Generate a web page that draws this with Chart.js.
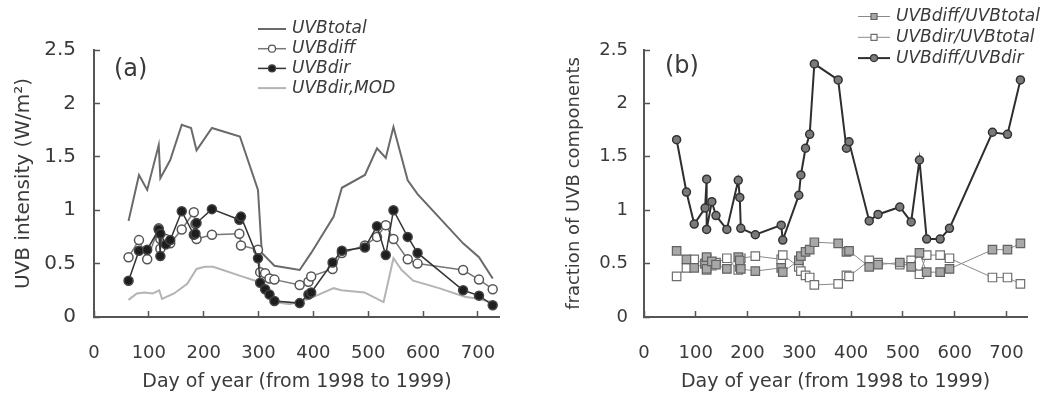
<!DOCTYPE html>
<html>
<head>
<meta charset="utf-8">
<script src="https://cdn.jsdelivr.net/npm/chart.js@4.4.0/dist/chart.umd.min.js"></script>
<style>
  html, body { margin: 0; padding: 0; background: #fff; }
  #wrap { position: relative; width: 1056px; height: 398px; }
  .panel { position: absolute; top: 0; width: 528px; height: 398px; }
</style>
</head>
<body>
<div id="wrap">
  <div class="panel" style="left:0"><canvas id="chartA" width="528" height="398"></canvas></div>
  <div class="panel" style="left:528px"><canvas id="chartB" width="528" height="398"></canvas></div>
</div>
<script>
// measurement days shared by both panels
const days = [63, 82, 97, 118, 121, 121, 131, 139, 160, 182, 185, 187, 215, 265, 268, 299, 303,
  312, 320, 329, 375, 391, 396, 435, 452, 494, 516, 532, 546, 572, 590, 673, 702, 727];

// (a) UVB intensity, W/m2
const uvbDiff = [0.56, 0.72, 0.54, 0.83, 0.73, 0.64, 0.73, 0.69, 0.82, 0.98, 0.87, 0.73, 0.77, 0.78, 0.67, 0.63, 0.42,
  0.41, 0.36, 0.35, 0.30, 0.33, 0.38, 0.45, 0.60, 0.67, 0.75, 0.86, 0.73, 0.54, 0.50, 0.44, 0.35, 0.26];
const uvbDir = [0.34, 0.62, 0.63, 0.82, 0.57, 0.78, 0.68, 0.72, 0.99, 0.77, 0.78, 0.88, 1.01, 0.91, 0.94, 0.55, 0.32,
  0.26, 0.21, 0.15, 0.13, 0.21, 0.23, 0.51, 0.62, 0.65, 0.85, 0.58, 1.00, 0.75, 0.60, 0.25, 0.20, 0.11];

const daysTotal = [63, 82, 97, 118, 121, 139, 160, 177, 187, 215, 266, 299, 306, 329, 375, 396, 437,
  452, 494, 516, 532, 546, 572, 590, 673, 702, 727];
const uvbTotal = [0.90, 1.33, 1.19, 1.61, 1.30, 1.47, 1.80, 1.77, 1.56, 1.77, 1.69, 1.19, 0.60, 0.48, 0.44, 0.60, 0.94,
  1.21, 1.33, 1.58, 1.49, 1.78, 1.28, 1.15, 0.69, 0.56, 0.36];

const daysMod = [63, 78, 92, 107, 119, 124, 146, 170, 187, 202, 217, 235, 264, 294, 329, 357, 392,
  437, 451, 493, 528, 546, 561, 582, 629, 676, 700, 724];
const uvbDirMod = [0.16, 0.22, 0.23, 0.22, 0.25, 0.17, 0.22, 0.31, 0.45, 0.47, 0.47, 0.44, 0.39, 0.34, 0.14, 0.12, 0.17,
  0.27, 0.25, 0.23, 0.14, 0.55, 0.44, 0.34, 0.27, 0.19, 0.17, 0.14];

// (b) fractions of UVB components
const fracDiffTotal = [0.62, 0.54, 0.46, 0.50, 0.56, 0.45, 0.52, 0.49, 0.45, 0.56, 0.53, 0.45, 0.43, 0.46, 0.42, 0.53, 0.57,
  0.61, 0.63, 0.70, 0.69, 0.61, 0.62, 0.47, 0.49, 0.51, 0.47, 0.60, 0.42, 0.42, 0.45, 0.63, 0.63, 0.69];
const fracDirTotal = [0.38, 0.46, 0.54, 0.50, 0.44, 0.55, 0.48, 0.51, 0.55, 0.44, 0.47, 0.55, 0.57, 0.54, 0.58, 0.47, 0.43,
  0.39, 0.37, 0.30, 0.31, 0.39, 0.38, 0.53, 0.51, 0.49, 0.53, 0.40, 0.58, 0.58, 0.55, 0.37, 0.37, 0.31];
const ratioDiffDir = [1.66, 1.17, 0.87, 1.02, 1.29, 0.82, 1.08, 0.95, 0.82, 1.28, 1.12, 0.83, 0.77, 0.86, 0.72, 1.14, 1.33,
  1.58, 1.71, 2.37, 2.22, 1.58, 1.64, 0.90, 0.96, 1.03, 0.89, 1.47, 0.73, 0.73, 0.83, 1.73, 1.71, 2.22];

const xTicks = [0, 100, 200, 300, 400, 500, 600, 700];
const yTicks = [0, 0.5, 1, 1.5, 2, 2.5];

const FONT = "'DejaVu Sans', sans-serif";
const INK = '#3a3a3a';
const AXIS = '#555555';

function pts(xs, ys) { return xs.map((x, i) => ({ x: x, y: ys[i] })); }

// legend marker, same shapes as the chart points
function marker(ctx, style, r, x, y) {
  ctx.beginPath();
  if (style === 'rect') ctx.rect(x - r, y - r, 2 * r, 2 * r);
  else ctx.arc(x, y, r, 0, Math.PI * 2);
  ctx.fill();
  ctx.stroke();
}

// line+marker legend and the (a)/(b) tag
const sideLegend = {
  id: 'sideLegend',
  afterDraw(chart, args, o) {
    const ctx = chart.ctx;
    ctx.save();
    ctx.textBaseline = 'middle';
    ctx.font = 'italic ' + o.size + 'px ' + FONT;
    o.order.forEach((idx, row) => {
      const ds = chart.data.datasets[idx];
      const y = o.y + row * o.gap;
      ctx.strokeStyle = ds.borderColor;
      ctx.lineWidth = ds.borderWidth;
      ctx.beginPath();
      ctx.moveTo(o.x, y);
      ctx.lineTo(o.x + o.len, y);
      ctx.stroke();
      if (ds.pointRadius > 0) {
        ctx.fillStyle = ds.pointBackgroundColor;
        ctx.strokeStyle = ds.pointBorderColor;
        ctx.lineWidth = 1.2;
        marker(ctx, ds.pointStyle, ds.pointStyle === 'rect' ? 3 : 3.5, o.x + o.len / 2, y);
      }
      ctx.fillStyle = INK;
      ctx.textAlign = 'left';
      ctx.fillText(ds.label, o.x + o.len + 6, y);
    });
    ctx.font = o.tagSize + 'px ' + FONT;
    ctx.fillStyle = INK;
    ctx.fillText(o.tag, o.tagX, o.tagY);
    ctx.restore();
  }
};

function scales(p) {
  return {
    x: {
      type: 'linear', min: 0, max: 740,
      border: { display: true, color: AXIS, width: 2 },
      grid: { drawOnChartArea: false, drawTicks: true, tickLength: -6, tickColor: AXIS, tickWidth: 1.5 },
      afterBuildTicks(s) { s.ticks = xTicks.map(v => ({ value: v })); },
      ticks: { padding: 32, color: INK, font: { family: FONT, size: 18 }, callback: v => String(v) },
      title: { display: true, text: 'Day of year (from 1998 to 1999)', color: INK,
        font: { family: FONT, size: 19 }, padding: { top: 0, bottom: 5 } },
      afterFit(s) { s.height = 81; }
    },
    y: {
      type: 'linear', min: 0, max: 2.5,
      border: { display: true, color: AXIS, width: 2 },
      grid: { drawOnChartArea: false, drawTicks: true, tickLength: -6, tickColor: AXIS, tickWidth: 1.5 },
      afterBuildTicks(s) { s.ticks = yTicks.map(v => ({ value: v })); },
      ticks: { padding: p.yTickPad, color: INK, font: { family: FONT, size: p.yTickSize }, callback: v => String(v) },
      title: { display: true, text: p.yTitle, color: INK,
        font: { family: FONT, size: p.yTitleSize }, padding: { top: p.yTitlePad, bottom: 0 } },
      afterFit(s) { s.width = p.yWidth; }
    }
  };
}

function baseOptions(p) {
  return {
    responsive: false,
    animation: false,
    layout: { padding: { top: 50, right: p.right, bottom: 0, left: 0 } },
    plugins: { legend: { display: false }, tooltip: { enabled: false }, sideLegend: p.legend },
    scales: scales(p)
  };
}

new Chart(document.getElementById('chartA'), {
  type: 'line',
  data: {
    datasets: [
      { label: 'UVBtotal', data: pts(daysTotal, uvbTotal), borderColor: '#6a6a6a', borderWidth: 2,
        pointRadius: 0, order: 2 },
      { label: 'UVBdiff', data: pts(days, uvbDiff), borderColor: '#777777', borderWidth: 1.5,
        pointStyle: 'circle', pointRadius: 4.5, pointBackgroundColor: '#ffffff', pointBorderColor: '#555555',
        pointBorderWidth: 1.5, order: 1 },
      { label: 'UVBdir', data: pts(days, uvbDir), borderColor: '#333333', borderWidth: 1.5,
        pointStyle: 'circle', pointRadius: 4.5, pointBackgroundColor: '#1e1e1e', pointBorderColor: '#444444',
        pointBorderWidth: 1.5, order: 0 },
      { label: 'UVBdir,MOD', data: pts(daysMod, uvbDirMod), borderColor: '#b4b4b4', borderWidth: 2,
        pointRadius: 0, order: 3 }
    ]
  },
  options: baseOptions({
    right: 17, yWidth: 94, yTickPad: 24, yTickSize: 20,
    yTitle: 'UVB intensity (W/m²)', yTitleSize: 20, yTitlePad: 12,
    legend: { order: [0, 1, 2, 3], x: 258, y: 29, gap: 19.7, len: 28, size: 17,
      tag: '(a)', tagSize: 24, tagX: 114, tagY: 70 }
  }),
  plugins: [sideLegend]
});

new Chart(document.getElementById('chartB'), {
  type: 'line',
  data: {
    datasets: [
      { label: 'UVBdiff/UVBtotal', data: pts(days, fracDiffTotal), borderColor: '#8a8a8a', borderWidth: 1,
        pointStyle: 'rect', pointRadius: 6, pointBackgroundColor: '#a8a8a8', pointBorderColor: '#626262',
        pointBorderWidth: 1.2, order: 1 },
      { label: 'UVBdir/UVBtotal', data: pts(days, fracDirTotal), borderColor: '#8a8a8a', borderWidth: 1,
        pointStyle: 'rect', pointRadius: 6, pointBackgroundColor: '#ffffff', pointBorderColor: '#6e6e6e',
        pointBorderWidth: 1.2, order: 2 },
      { label: 'UVBdiff/UVBdir', data: pts(days, ratioDiffDir), borderColor: '#2e2e2e', borderWidth: 2,
        pointStyle: 'circle', pointRadius: 4, pointBackgroundColor: '#7a7a7a', pointBorderColor: '#333333',
        pointBorderWidth: 1.5, order: 0 }
    ]
  },
  options: baseOptions({
    right: 0, yWidth: 116, yTickPad: 22, yTickSize: 18,
    yTitle: 'fraction of UVB components', yTitleSize: 18, yTitlePad: 36,
    legend: { order: [0, 1, 2], x: 330, y: 16.5, gap: 20.8, len: 32, size: 17,
      tag: '(b)', tagSize: 24, tagX: 137, tagY: 67 }
  }),
  plugins: [sideLegend]
});
</script>
</body>
</html>
